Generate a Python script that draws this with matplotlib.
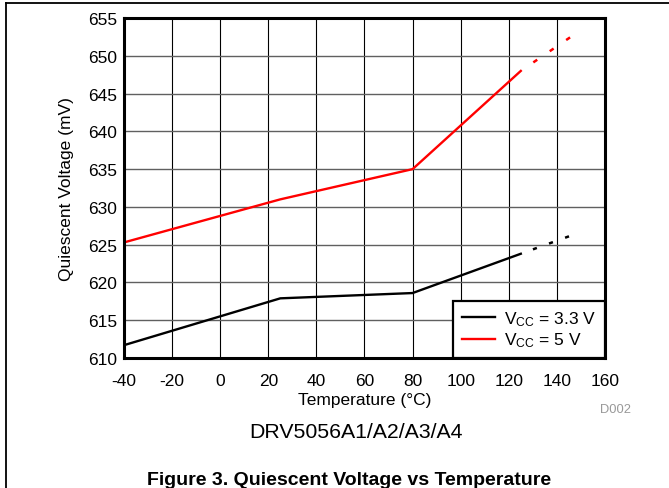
import matplotlib
matplotlib.use("Agg")
import matplotlib.pyplot as plt
from matplotlib.lines import Line2D

# Font setup (Arial-like)
plt.rcParams["font.family"] = ["Liberation Sans", "DejaVu Sans"]
plt.rcParams["mathtext.fontset"] = "custom"
plt.rcParams["mathtext.rm"] = "Liberation Sans"
plt.rcParams["mathtext.it"] = "Liberation Sans:italic"
plt.rcParams["lines.scale_dashes"] = False
plt.rcParams["axes.unicode_minus"] = False

# Measured data
TEMP = [-40, 25, 80, 125]
V_33 = [611.7, 617.9, 618.6, 623.8]
V_5 = [625.3, 631.0, 635.0, 648.0]

# Extrapolated (dashed) part
TEMP_EXT = [125, 146.7]
V_33_EXT = [623.8, 626.3]
V_5_EXT = [648.0, 652.7]

X_TICKS = list(range(-40, 161, 20))
Y_TICKS = list(range(610, 656, 5))

fig = plt.figure(figsize=(6.69, 4.89), dpi=100)
ax = fig.add_axes([0.1853, 0.2658, 0.719, 0.6953])

# Grid
for x in X_TICKS:
    ax.axvline(x, color="black", lw=0.8, zorder=1)
for y in Y_TICKS:
    ax.axhline(y, color="#606060", lw=1.0, zorder=1)

ax.plot(TEMP, V_33, color="black", lw=1.7, zorder=3)
ax.plot(TEMP, V_5, color="red", lw=1.7, zorder=3)
ax.plot(TEMP_EXT, V_33_EXT, color="black", lw=1.8, linestyle=(3.0, (3.0, 9.3)), zorder=3)
ax.plot(TEMP_EXT, V_5_EXT, color="red", lw=1.8, linestyle=(3.4, (3.4, 10.9)), zorder=3)

ax.set_xlim(-40, 160)
ax.set_ylim(610, 655)
ax.set_xticks(X_TICKS)
ax.set_yticks(Y_TICKS)
ax.tick_params(length=0, labelsize=12.5)
ax.tick_params(axis="x", pad=10.5)
ax.tick_params(axis="y", pad=5)
for s in ax.spines.values():
    s.set_linewidth(2.2)
    s.set_zorder(5)

ax.set_xlabel("Temperature (°C)", fontsize=12.5, labelpad=3)
ax.set_ylabel("Quiescent Voltage (mV)", fontsize=12.5, labelpad=10)

handles = [Line2D([], [], color="black", lw=1.7), Line2D([], [], color="red", lw=1.7)]
leg = ax.legend(handles, [r"V$_{\mathrm{CC}}$ = 3.3 V", r"V$_{\mathrm{CC}}$ = 5 V"],
                loc="lower right", borderaxespad=0, fancybox=False, framealpha=1,
                edgecolor="black", fontsize=12.5, handlelength=1.9, handletextpad=0.55,
                borderpad=0.5, labelspacing=0.15)
leg.get_frame().set_linewidth(1.6)
leg.set_zorder(6)

# Page text
fig.text(0.943, 0.1554, "D002", ha="right", va="baseline", fontsize=9.3, color="#999999")
fig.text(0.372, 0.1043, "DRV5056A1/A2/A3/A4", ha="left", va="baseline", fontsize=15.3)
fig.text(0.2197, 0.0082, "Figure 3. Quiescent Voltage vs Temperature", ha="left",
         va="baseline", fontsize=14, fontweight="bold")

# Page border
fig.add_artist(Line2D([6 / 669, 1], [1 - 4 / 489, 1 - 4 / 489], color="black", lw=1.3))
fig.add_artist(Line2D([6 / 669, 6 / 669], [0, 1 - 4 / 489], color="black", lw=1.3))

fig.savefig("out.png", dpi=100)
